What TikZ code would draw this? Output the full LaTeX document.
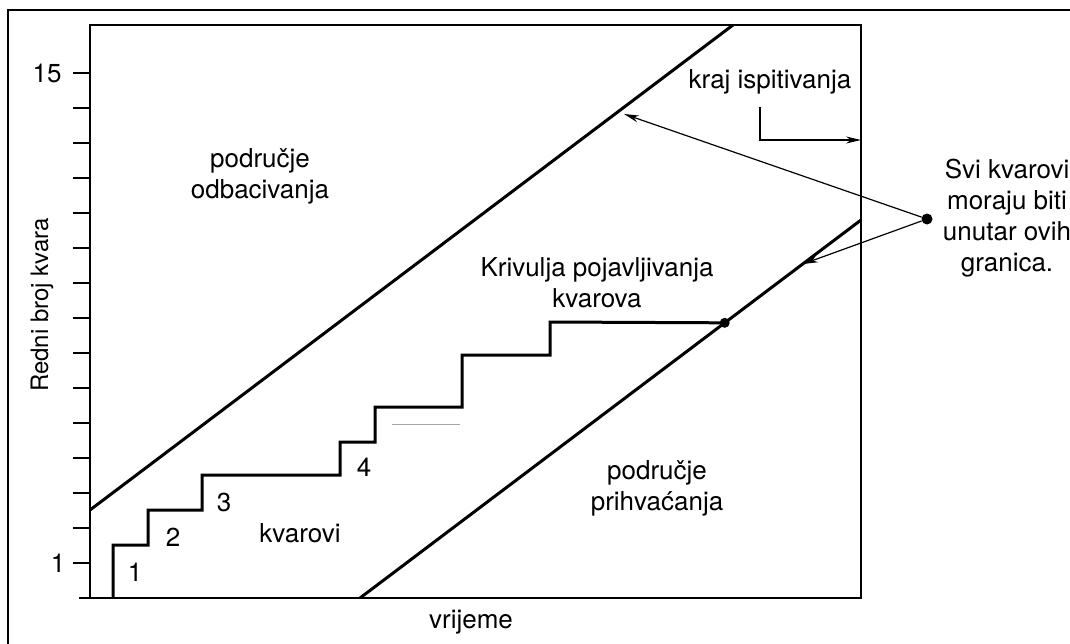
\documentclass[tikz,border=0pt]{standalone}
\usepackage{fontspec}
\setmainfont{TeX Gyre Heros}
\usetikzlibrary{arrows.meta,calc}
\begin{document}
\begin{tikzpicture}[x=1pt,y=-1pt,
  lbl/.style={font=\fontsize{26}{31}\selectfont, inner sep=0pt, align=center},
  axlbl/.style={font=\fontsize{24}{28}\selectfont, inner sep=0pt},
  heavy/.style={line width=3pt, line join=miter},
  frame/.style={line width=1.7pt},
  pointer/.style={line width=1.2pt, -{Stealth[length=15pt,width=7pt]}},
  dotnode/.style={circle, fill=black, inner sep=0pt, minimum size=#1},
]
\useasboundingbox (0,0) rectangle (1070,643);
\clip (0,0) rectangle (1070,643);
\fill[white] (0,0) rectangle (1070,643);
% outer frame
\draw[frame] (8,660) -- (8,10) -- (1080,10);
% plot box
\draw[frame] (90,25) rectangle (861,598);
\draw[frame] (79,598) -- (90,598);
% ticks
\foreach \i in {1,...,15}
  \draw[frame] (73,{563-35*(\i-1)}) -- (90,{563-35*(\i-1)});
\node[lbl] (t15) at (47,73) {15};
\node[lbl] (t1) at (58,563) {1};
% axis labels
\node[axlbl, rotate=90] (ylab) at (42,305) {Redni broj kvara};
\node[lbl] (xlab) at (471,622) {vrijeme};
% boundary lines
\coordinate (u0) at (90,510);
\coordinate (u1) at (733,25);
\coordinate (l0) at (360,598);
\coordinate (l1) at (861,220);
\draw[heavy] (u0) -- (u1);
\draw[heavy] (l0) -- (l1);
% staircase
\node[dotnode=10pt] (sd) at ($(l0)!0.728!(l1)$) {};
\coordinate (s0) at (113,598);
\draw[heavy] (s0) -- (113,545) -- (148,545) -- (148,510) -- (202,510) -- (202,475)
  -- (340,475) -- (340,442) -- (375,442) -- (375,407) -- (462,407) -- (462,355)
  -- (550,355) -- (550,322) -- (sd.center);
\coordinate (g0) at (392,424);
\coordinate (g1) at (460,424);
\draw[gray!70, line width=1pt] (g0) -- (g1);
% step labels
\node[lbl] (n1) at (135,572) {1};
\node[lbl] (n2) at (173,537) {2};
\node[lbl] (n3) at (224,502) {3};
\node[lbl] (n4) at (364,467) {4};
\node[lbl] (kv) at (300,533) {kvarovi};
% region labels
\node[lbl] (odb) at (260,176) {područje\\odbacivanja};
\node[lbl] (pri) at (657,488) {područje\\prihvaćanja};
\node[lbl] (kri) at (597,283) {Krivulja pojavljivanja\\kvarova};
\node[lbl] (kraj) at (770,82) {kraj ispitivanja};
% end of test bracket
\coordinate (kb) at (760,107);
\coordinate (ke) at (861,140);
\draw[pointer] (kb) |- (ke);
% callout
\node[lbl] (svi) at (1007,218) {Svi kvarovi\\moraju biti\\unutar ovih\\granica.};
\node[dotnode=11pt] (src) at (927,219) {};
\coordinate (tipU) at (624,114);
\coordinate (tipL) at (803,264);
\draw[pointer] (src) -- (tipU);
\draw[pointer] (src) -- (tipL);
\end{tikzpicture}
\end{document}
